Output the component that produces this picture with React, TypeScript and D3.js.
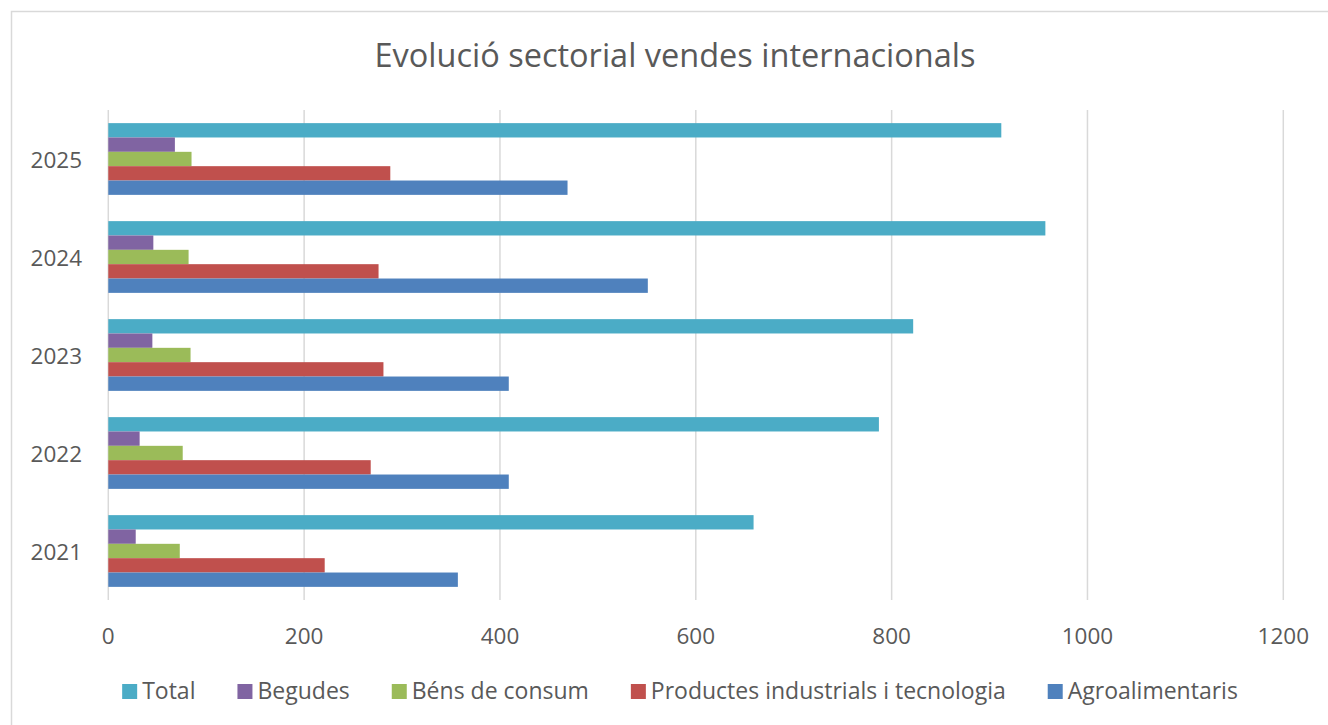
import * as d3 from "d3";
import { useEffect, useRef } from "react";

// chart data
const years = ["2021", "2022", "2023", "2024", "2025"];
const seriesNames = ["Total", "Begudes", "Béns de consum", "Productes industrials i tecnologia", "Agroalimentaris"];
const seriesColors = ["#4BACC6", "#8064A2", "#9BBB59", "#C0504D", "#4F81BD"];

const total = [659, 787, 822, 957, 912];
const begudes = [28, 32, 45, 46, 68];
const bensConsum = [73, 76, 84, 82, 85];
const productes = [221, 268, 281, 276, 288];
const agro = [357, 409, 409, 551, 469];

const xTicks = [0, 200, 400, 600, 800, 1000, 1200];
const title = "Evolució sectorial vendes internacionals";

const W = 1328, H = 725;
const FONT = "'Open Sans', sans-serif";
const TEXT = "#595959";
const GRID = "#d9d9d9";

export default function App() {
  const ref = useRef<SVGSVGElement>(null);

  useEffect(() => {
    document.body.style.margin = "0";
    const values = [total, begudes, bensConsum, productes, agro];
    const svg = d3.select(ref.current);
    svg.selectAll("*").remove();

    // outer frame (cut by the picture on the right and bottom)
    svg.append("rect")
      .attr("x", 11.5).attr("y", 11.5)
      .attr("width", W + 20).attr("height", H + 20)
      .attr("fill", "white").attr("stroke", GRID).attr("stroke-width", 1.5);

    const x = d3.scaleLinear().domain([0, 1200]).range([108.3, 1283.3]);
    const y = d3.scaleBand<string>()
      .domain([...years].reverse())
      .range([110, 600])
      .paddingInner(0.268)
      .paddingOuter(0.134);
    const inner = d3.scaleBand<number>()
      .domain(d3.range(seriesNames.length))
      .range([0, y.bandwidth()]);

    // title
    svg.append("text")
      .attr("x", 675).attr("y", 67)
      .attr("text-anchor", "middle")
      .attr("font-family", FONT).attr("font-size", 32.5)
      .attr("fill", TEXT)
      .text(title);

    // vertical gridlines
    svg.append("g").selectAll("line")
      .data(xTicks)
      .join("line")
      .attr("x1", d => x(d)).attr("x2", d => x(d))
      .attr("y1", 110).attr("y2", 600)
      .attr("stroke", GRID).attr("stroke-width", 1.5);

    // bars
    const groups = svg.append("g").selectAll("g")
      .data(years)
      .join("g")
      .attr("transform", d => `translate(0,${y(d)})`);

    groups.selectAll("rect")
      .data((yr) => {
        const i = years.indexOf(yr);
        return values.map((s, k) => ({ k, v: s[i] }));
      })
      .join("rect")
      .attr("x", x(0))
      .attr("y", d => inner(d.k)!)
      .attr("width", d => x(d.v) - x(0))
      .attr("height", inner.bandwidth())
      .attr("fill", d => seriesColors[d.k]);

    // x tick labels
    svg.append("g").selectAll("text")
      .data(xTicks)
      .join("text")
      .attr("x", d => x(d)).attr("y", 643.5)
      .attr("text-anchor", "middle")
      .attr("font-family", FONT).attr("font-size", 22.5)
      .attr("fill", TEXT)
      .text(d => String(d));

    // year labels
    svg.append("g").selectAll("text")
      .data(years)
      .join("text")
      .attr("x", 82)
      .attr("y", d => y(d)! + y.bandwidth() / 2 + 8.5)
      .attr("text-anchor", "end")
      .attr("font-family", FONT).attr("font-size", 22.5)
      .attr("fill", TEXT)
      .text(d => d);

    // legend, laid out from measured text widths
    const legendFont = 23;
    const sq = 15, txtGap = 5, itemGap = 42;
    const ctx = document.createElement("canvas").getContext("2d")!;
    ctx.font = `${legendFont}px 'Open Sans'`;
    const widths = seriesNames.map(n => sq + txtGap + ctx.measureText(n).width);
    const totalW = d3.sum(widths) + itemGap * (widths.length - 1);
    let cx = 680 - totalW / 2;
    const starts = widths.map(w => { const s = cx; cx += w + itemGap; return s; });

    const legend = svg.append("g").selectAll("g")
      .data(seriesNames)
      .join("g")
      .attr("transform", (_, i) => `translate(${starts[i]},699)`);
    legend.append("rect")
      .attr("x", 0).attr("y", -sq)
      .attr("width", sq).attr("height", sq)
      .attr("fill", (_, i) => seriesColors[i]);
    legend.append("text")
      .attr("x", sq + txtGap).attr("y", 0)
      .attr("font-family", FONT).attr("font-size", legendFont)
      .attr("fill", TEXT)
      .text(d => d);
  }, []);

  return (
    <svg ref={ref} width={W} height={H}
      style={{ position: "absolute", left: 0, top: 0, display: "block", background: "white" }} />
  );
}
